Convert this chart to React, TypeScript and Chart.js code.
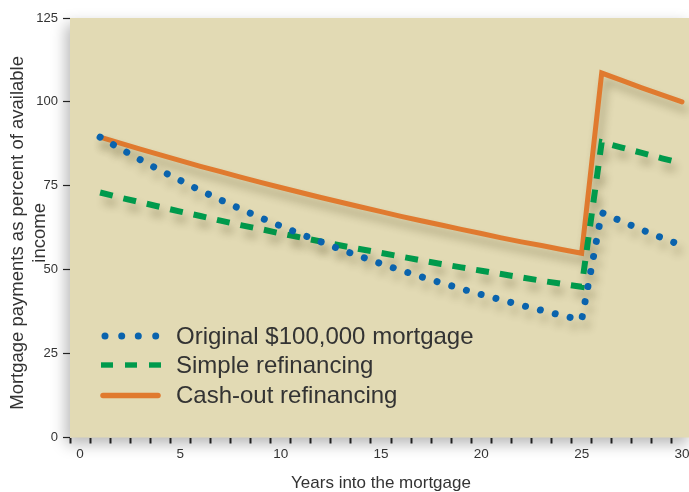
import React, { useEffect, useRef } from 'react';
import { Chart, registerables } from 'chart.js';

Chart.register(...registerables);

// ---- data ----
const years = [1, 2, 3, 4, 5, 6, 7, 8, 9, 10, 11, 12, 13, 14, 15, 16, 17, 18, 19, 20, 21, 22, 23, 24, 25, 26, 27, 28, 29, 30];
const originalMortgage = [89.5, 86.1, 82.8, 79.6, 76.6, 73.6, 70.8, 68.1, 65.5, 63.0, 60.6, 58.3, 56.0, 53.9, 51.8, 49.8, 47.9, 46.1, 44.3, 42.6, 41.0, 39.4, 37.9, 36.4, 35.0, 67.0, 64.4, 61.9, 59.5, 57.2];
const simpleRefinancing = [73.0, 71.5, 70.1, 68.7, 67.3, 66.0, 64.6, 63.3, 62.1, 60.8, 59.6, 58.4, 57.2, 56.1, 55.0, 53.9, 52.8, 51.7, 50.7, 49.7, 48.7, 47.7, 46.7, 45.8, 44.9, 88.0, 86.4, 84.8, 83.2, 81.7];
const cashOutRefinancing = [89.5, 87.7, 85.9, 84.2, 82.5, 80.8, 79.2, 77.6, 76.0, 74.5, 73.0, 71.5, 70.1, 68.7, 67.3, 65.9, 64.6, 63.3, 62.0, 60.8, 59.5, 58.3, 57.2, 56.0, 54.9, 108.6, 106.4, 104.2, 102.1, 100.0];
const seriesNames = ['Original $100,000 mortgage', 'Simple refinancing', 'Cash-out refinancing'];
const yTickValues = [0, 25, 50, 75, 100, 125];
const xTickLabels = [0, 5, 10, 15, 20, 25, 30];
const xAxisTitle = 'Years into the mortgage';
const yAxisTitle = ['Mortgage payments as percent of available  ', 'income  '];

// ---- styles ----
const BLUE = '#0a63ad';
const GREEN = '#009a4c';
const ORANGE = '#e07a2f';
const PLOT_BG = '#e2dab4';
const TEXT = '#333333';
const FONT = '"Liberation Sans", Arial, Helvetica, sans-serif';

const plotBackground = {
  id: 'plotBackground',
  beforeDraw(chart: any) {
    const { ctx, chartArea } = chart;
    const { left, top, right, bottom } = chartArea;
    ctx.save();
    ctx.shadowColor = 'rgba(0,0,0,0.28)';
    ctx.shadowBlur = 14;
    ctx.shadowOffsetX = -4;
    ctx.shadowOffsetY = 6;
    ctx.fillStyle = PLOT_BG;
    ctx.fillRect(left, top, right - left, bottom - top);
    ctx.restore();
  },
};

const lineShadow = {
  id: 'lineShadow',
  beforeDatasetsDraw(chart: any) {
    const ctx = chart.ctx;
    ctx.save();
    ctx.shadowColor = 'rgba(70,60,20,0.33)';
    ctx.shadowBlur = 8;
    ctx.shadowOffsetX = 4;
    ctx.shadowOffsetY = 8;
  },
  afterDatasetsDraw(chart: any) {
    chart.ctx.restore();
  },
};

function toPoints(values: number[]) {
  return values.map((v, i) => ({ x: years[i], y: v }));
}

function Legend() {
  const rowStyle = (top: number): React.CSSProperties => ({
    position: 'absolute',
    left: 98,
    top,
    height: 28,
    whiteSpace: 'nowrap',
  });
  const textStyle: React.CSSProperties = {
    position: 'absolute',
    left: 78,
    top: 0,
    fontFamily: FONT,
    fontSize: 24,
    lineHeight: '28px',
    color: TEXT,
  };
  return (
    <>
      <div style={rowStyle(335.5 - 14)}>
        <svg width={66} height={28} style={{ position: 'absolute', left: 0, top: 0 }}>
          {[7, 23.7, 40.3, 57.7].map((cx) => (
            <circle key={cx} cx={cx} cy={14} r={3.5} fill={BLUE} />
          ))}
        </svg>
        <span style={textStyle}>{seriesNames[0]}</span>
      </div>
      <div style={rowStyle(364.5 - 14)}>
        <svg width={66} height={28} style={{ position: 'absolute', left: 0, top: 0 }}>
          {[3, 27, 51].map((x) => (
            <rect key={x} x={x} y={11.3} width={12} height={5.4} fill={GREEN} />
          ))}
        </svg>
        <span style={textStyle}>{seriesNames[1]}</span>
      </div>
      <div style={rowStyle(395 - 14)}>
        <svg width={66} height={28} style={{ position: 'absolute', left: 0, top: 0 }}>
          <line x1={5} y1={14.5} x2={60} y2={14.5} stroke={ORANGE} strokeWidth={5.5} strokeLinecap="round" />
        </svg>
        <span style={textStyle}>{seriesNames[2]}</span>
      </div>
    </>
  );
}

export default function App() {
  const canvasRef = useRef<HTMLCanvasElement | null>(null);

  useEffect(() => {
    const canvas = canvasRef.current;
    if (!canvas) return;
    const halfYearMarks: number[] = [];
    for (let v = -0.5; v <= 30.5; v += 1) halfYearMarks.push(v);
    const xTickValues = [...halfYearMarks, ...xTickLabels].sort((a, b) => a - b);

    const chart = new Chart(canvas, {
      type: 'line',
      data: {
        datasets: [
          {
            label: seriesNames[0],
            data: toPoints(originalMortgage),
            borderColor: BLUE,
            borderWidth: 7,
            borderDash: [0.01, 15.3],
            borderCapStyle: 'round',
            pointRadius: 0,
            fill: false,
            tension: 0,
          },
          {
            label: seriesNames[1],
            data: toPoints(simpleRefinancing),
            borderColor: GREEN,
            borderWidth: 6,
            borderDash: [13, 11],
            borderCapStyle: 'butt',
            pointRadius: 0,
            fill: false,
            tension: 0,
          },
          {
            label: seriesNames[2],
            data: toPoints(cashOutRefinancing),
            borderColor: ORANGE,
            borderWidth: 5,
            borderCapStyle: 'round',
            borderJoinStyle: 'miter',
            pointRadius: 0,
            fill: false,
            tension: 0,
          },
        ],
      } as any,
      options: {
        responsive: false,
        animation: false,
        devicePixelRatio: 1,
        layout: { padding: { top: 18, right: 8, left: 0, bottom: 0 } },
        plugins: {
          legend: { display: false },
          tooltip: { enabled: false },
        },
        scales: {
          x: {
            type: 'linear',
            min: -0.5,
            max: 30.5,
            afterBuildTicks: (scale: any) => {
              scale.ticks = xTickValues.map((value) => ({ value }));
            },
            afterFit: (scale: any) => {
              scale.height = 54.5;
            },
            ticks: {
              autoSkip: false,
              maxRotation: 0,
              padding: 3,
              color: TEXT,
              font: { family: FONT, size: 13.5 },
              callback: (value: any) => (xTickLabels.includes(Number(value)) ? String(value) : ''),
            },
            grid: {
              drawOnChartArea: false,
              drawTicks: true,
              tickLength: 6,
              tickWidth: 2,
              tickColor: (ctx: any) =>
                ctx.tick && Number.isInteger(ctx.tick.value) ? 'rgba(0,0,0,0)' : '#222',
            },
            border: { display: false },
            title: {
              display: true,
              text: xAxisTitle,
              color: TEXT,
              font: { family: FONT, size: 17, lineHeight: 1 },
              padding: { top: 0, bottom: 0.5 },
            },
          },
          y: {
            type: 'linear',
            min: 0,
            max: 125,
            afterBuildTicks: (scale: any) => {
              scale.ticks = yTickValues.map((value) => ({ value }));
            },
            afterFit: (scale: any) => {
              scale.width = 70;
            },
            ticks: {
              padding: 5,
              color: TEXT,
              font: { family: FONT, size: 13 },
            },
            grid: {
              drawOnChartArea: false,
              drawTicks: true,
              tickLength: 7,
              tickWidth: 1.2,
              tickColor: '#222',
            },
            border: { display: false },
            title: {
              display: true,
              text: yAxisTitle,
              color: TEXT,
              font: { family: FONT, size: 18.5, lineHeight: 1.2 },
              padding: { top: 7, bottom: 0 },
            },
          },
        },
      } as any,
      plugins: [plotBackground, lineShadow],
    });

    return () => {
      chart.destroy();
    };
  }, []);

  return (
    <div
      style={{
        position: 'fixed',
        left: 0,
        top: 0,
        width: 689,
        height: 492,
        overflow: 'hidden',
        background: '#ffffff',
      }}
    >
      <canvas ref={canvasRef} width={700} height={492} style={{ display: 'block', width: 700, height: 492 }} />
      <Legend />
    </div>
  );
}
